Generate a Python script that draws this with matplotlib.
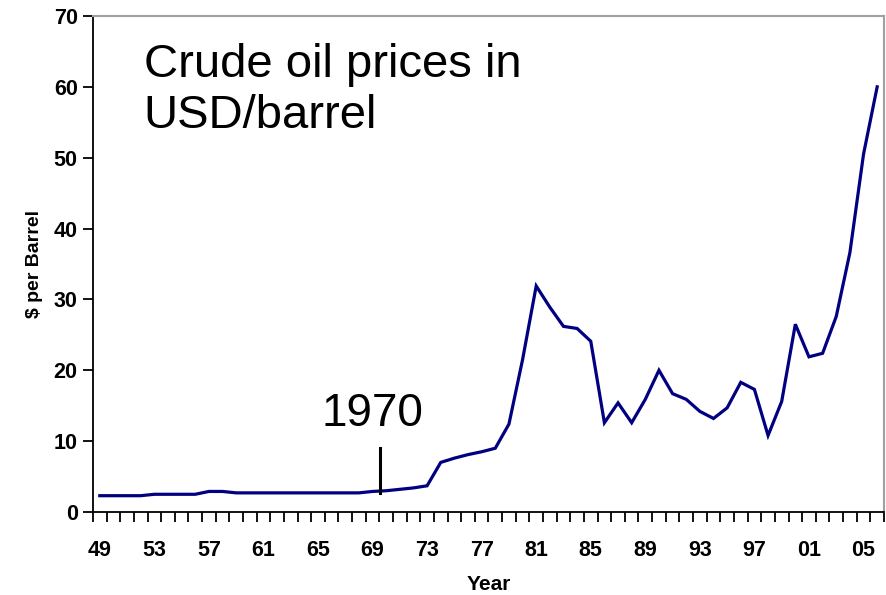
import matplotlib
matplotlib.use("Agg")
import matplotlib.pyplot as plt
import numpy as np

plt.rcParams['font.family'] = ['Liberation Sans', 'DejaVu Sans']

# crude oil price, $ per barrel, 1949-2006
years = list(range(1949, 2007))
prices = [2.3, 2.3, 2.3, 2.3, 2.5, 2.5, 2.5, 2.5, 2.9, 2.9,
          2.7, 2.7, 2.7, 2.7, 2.7, 2.7, 2.7, 2.7, 2.7, 2.7,
          2.9, 3.0, 3.2, 3.4, 3.7, 7.0, 7.6, 8.1, 8.5, 9.0,
          12.4, 21.5, 31.9, 28.9, 26.2, 25.9, 24.1, 12.6, 15.4, 12.6,
          15.9, 20.0, 16.7, 15.9, 14.2, 13.2, 14.7, 18.3, 17.3, 10.8,
          15.6, 26.5, 21.9, 22.4, 27.6, 36.6, 50.5, 60.0]
tick_years = years[::4]
tick_labels = ["%02d" % (y % 100) for y in tick_years]

fig = plt.figure(figsize=(8.87, 5.95), dpi=100)
ax = fig.add_axes([0.1048, 0.1395, 0.8918, 0.8336])

x = np.arange(len(years))
ax.plot(x, prices, color='#000080', lw=2.3, solid_joinstyle='miter')

ax.set_xlim(-0.5, len(years) - 0.5)
ax.set_ylim(0, 70)
ax.set_yticks(range(0, 71, 10))

# category axis: labels centred on years, tick marks between them
ax.set_xticks(x[::4])
ax.set_xticklabels(tick_labels)
ax.set_xticks(np.arange(len(years) + 1) - 0.5, minor=True)
ax.tick_params(axis='x', which='major', length=0, pad=20)
ax.tick_params(axis='x', which='minor', length=7, width=1.3, direction='out')
ax.tick_params(axis='y', length=7, width=1.3, pad=4)
for lab in ax.get_xticklabels() + ax.get_yticklabels():
    lab.set_fontsize(15.5)
    lab.set_fontweight('bold')

for s in ['top', 'right']:
    ax.spines[s].set_color('#a0a0a0')
    ax.spines[s].set_linewidth(1.5)
for s in ['left', 'bottom']:
    ax.spines[s].set_linewidth(1.3)

ax.set_xlabel("Year", fontsize=15, fontweight='bold', labelpad=10)
ax.set_ylabel("$ per Barrel", fontsize=14, fontweight='bold', labelpad=8)

ax.text(0.064, 0.945, "Crude oil prices in\nUSD/barrel", transform=ax.transAxes,
        fontsize=34, va='top', ha='left', linespacing=1.2)
ax.text(20.0, 12.2, "1970", fontsize=33, ha='center', va='baseline')
ax.plot([20.55, 20.55], [2.7, 9.0], color='black', lw=2.2)

fig.savefig("out.png", dpi=100)
